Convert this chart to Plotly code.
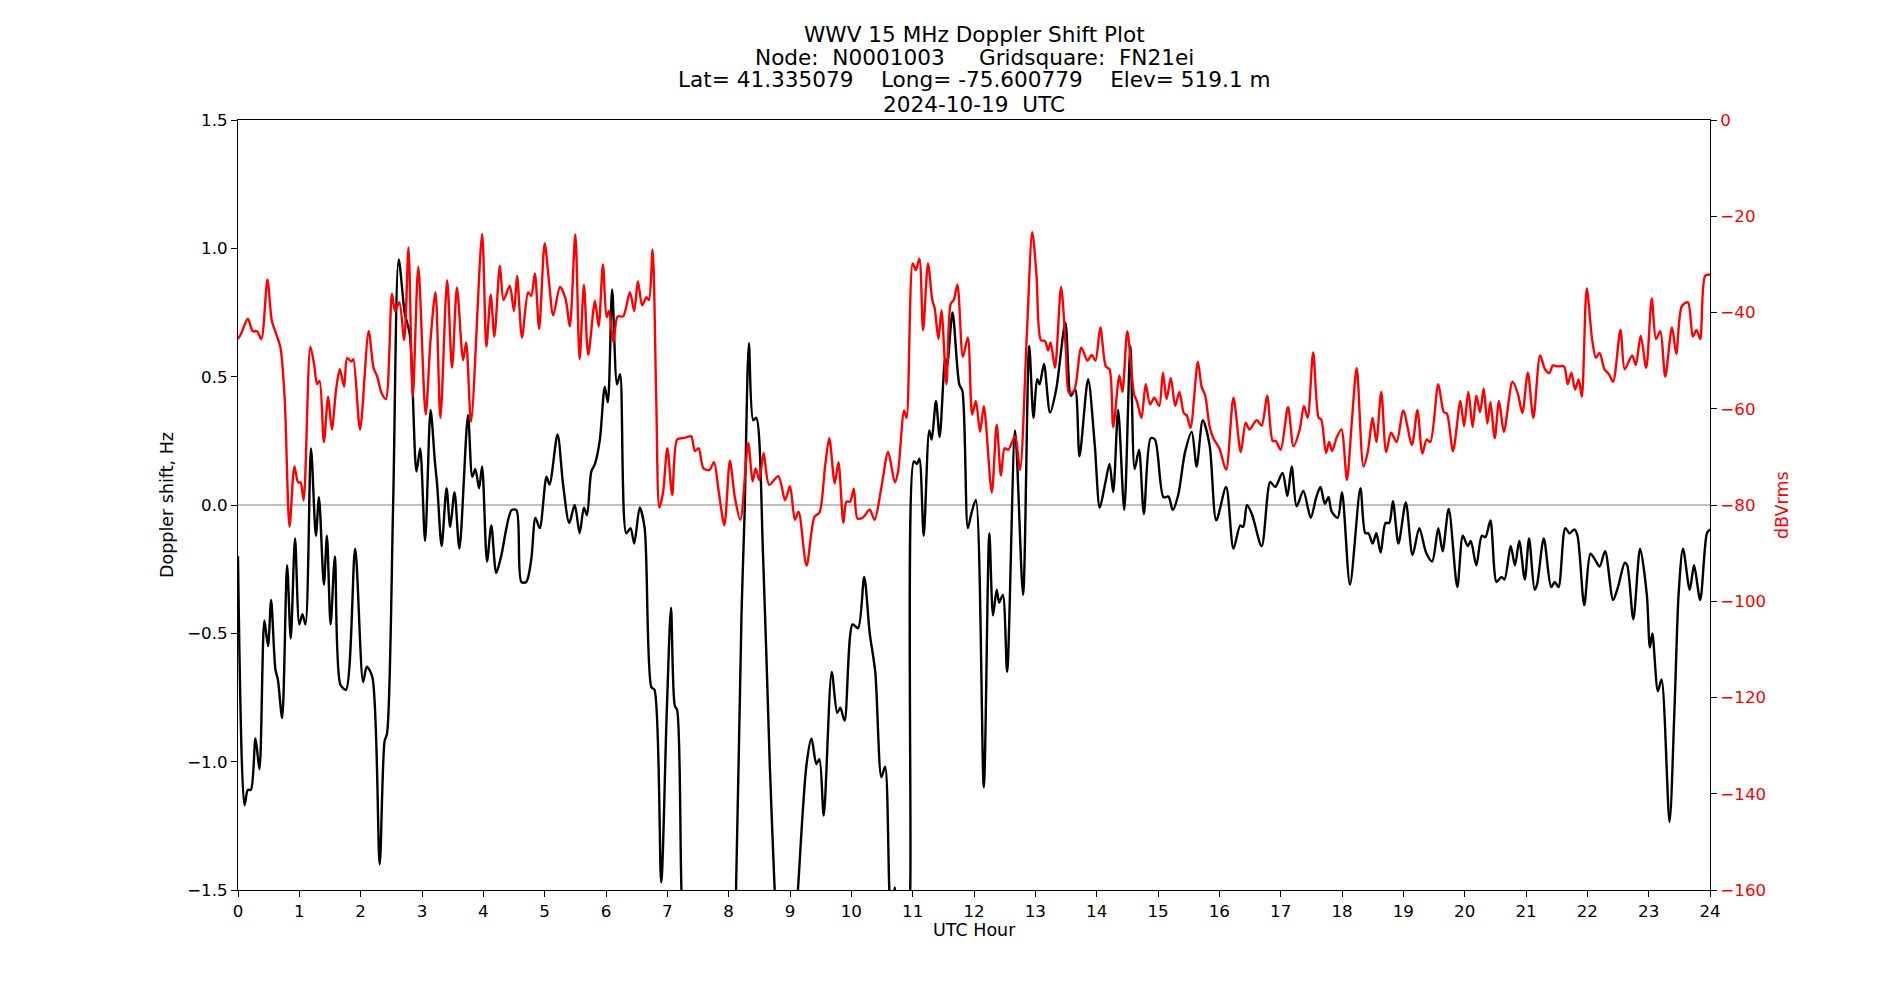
import plotly.graph_objects as go

# ---------------- data ----------------
doppler_hours = [
    0.00, 0.106, 0.16, 0.21, 0.285, 0.35, 0.43, 0.49, 0.54, 0.61, 0.65, 0.72, 0.80, 0.86, 0.93,
    1.00, 1.05, 1.10, 1.19, 1.27, 1.32, 1.40, 1.45, 1.51, 1.58, 1.67, 1.76, 1.91,
    2.04, 2.10, 2.19, 2.31, 2.39, 2.43, 2.53, 2.62, 2.72, 2.80, 2.91, 2.97,
    3.05, 3.14, 3.21, 3.25, 3.32, 3.40, 3.46, 3.53, 3.61, 3.75, 3.82, 3.87, 3.93, 3.98,
    4.06, 4.13, 4.21, 4.29, 4.46, 4.54, 4.62, 4.70, 4.78, 4.85, 4.92,
    5.03, 5.08, 5.21, 5.30, 5.40, 5.49, 5.57, 5.64, 5.69, 5.76, 5.82, 5.90, 5.98,
    6.03, 6.10, 6.18, 6.23, 6.33, 6.40, 6.46, 6.55, 6.63, 6.74, 6.79, 6.90, 6.99,
    7.06, 7.12, 7.16, 7.23, 7.35, 7.70, 8.02, 8.12,
    8.21, 8.26, 8.33, 8.40, 8.45, 8.56, 8.67, 8.75, 8.92, 9.13,
    9.27, 9.35, 9.43, 9.48, 9.55, 9.68, 9.77, 9.82, 9.89,
    10.02, 10.11, 10.21, 10.30, 10.39, 10.49, 10.55, 10.62, 10.66, 10.71, 10.80, 10.92, 10.96,
    11.02, 11.07, 11.11, 11.18, 11.27, 11.31, 11.38, 11.44, 11.53, 11.56, 11.65, 11.76, 11.81, 11.90, 11.96,
    12.03, 12.16, 12.25, 12.31, 12.37, 12.41, 12.47, 12.54, 12.67, 12.80, 12.90, 12.97,
    13.03, 13.07, 13.14, 13.24, 13.34, 13.49, 13.58, 13.65, 13.72, 13.86, 13.97,
    14.05, 14.14, 14.21, 14.27, 14.35, 14.45, 14.55, 14.62, 14.69, 14.77, 14.88, 14.95,
    15.09, 15.17, 15.24, 15.33, 15.44, 15.55, 15.63, 15.73, 15.84, 15.95,
    16.11, 16.23, 16.34, 16.39, 16.45, 16.53, 16.69, 16.83, 16.91,
    17.03, 17.11, 17.18, 17.26, 17.37, 17.49, 17.58, 17.65, 17.72, 17.78, 17.83, 17.93,
    18.00, 18.13, 18.30, 18.38, 18.43, 18.50, 18.56, 18.63, 18.71, 18.77, 18.83, 18.92,
    19.04, 19.15, 19.26, 19.37, 19.47, 19.57, 19.64, 19.74, 19.88, 19.97,
    20.05, 20.10, 20.19, 20.28, 20.34, 20.42, 20.52, 20.60, 20.65, 20.75, 20.82, 20.89, 20.98,
    21.05, 21.14, 21.18, 21.29, 21.41, 21.47, 21.53, 21.64, 21.71, 21.79, 21.84, 21.95,
    22.05, 22.13, 22.20, 22.29, 22.42, 22.50, 22.61, 22.65, 22.75, 22.86, 22.97,
    23.02, 23.06, 23.15, 23.21, 23.34, 23.42, 23.49, 23.56, 23.67, 23.74, 23.84, 23.95, 24.00,
]
doppler_hz = [
    -0.20, -1.17, -1.11, -1.11, -0.91, -1.03, -0.45, -0.55, -0.37, -0.64, -0.68, -0.83, -0.235, -0.52, -0.13,
    -0.465, -0.425, -0.465, 0.22, -0.12, 0.03, -0.31, -0.12, -0.465, -0.20, -0.70, -0.72, -0.17,
    -0.69, -0.63, -0.67, -1.40, -0.92, -0.89, 0.01, 0.957, 0.745, 0.667, 0.13, 0.22,
    -0.14, 0.37, 0.17, 0.07, -0.16, 0.065, -0.085, 0.05, -0.17, 0.35, 0.11, 0.14, 0.065, 0.15,
    -0.22, -0.08, -0.265, -0.20, -0.02, -0.02, -0.30, -0.30, -0.215, -0.05, -0.09,
    0.11, 0.08, 0.275, 0.08, -0.07, 0.0, -0.11, -0.01, -0.04, 0.13, 0.16, 0.255, 0.46,
    0.40, 0.84, 0.47, 0.51, -0.11, -0.09, -0.15, -0.01, -0.09, -0.71, -0.72, -1.47, -0.81,
    -0.40, -0.78, -0.80, -1.50, -2.30, -2.80, -2.30, -1.50,
    -0.42, -0.03, 0.63, 0.33, 0.34, -0.19, -1.01, -1.50, -2.40, -1.50,
    -1.01, -0.91, -1.01, -0.99, -1.21, -0.65, -0.81, -0.79, -0.84,
    -0.465, -0.48, -0.28, -0.50, -0.65, -1.06, -1.02, -1.50, -1.65, -1.49, -1.90, -1.70, -1.50,
    0.17, 0.16, 0.18, -0.12, 0.29, 0.255, 0.405, 0.265, 0.57, 0.54, 0.75, 0.47, 0.445, -0.09, -0.03,
    0.02, -1.10, -0.11, -0.43, -0.33, -0.38, -0.35, -0.65, 0.29, -0.35, 0.62, 0.34,
    0.49, 0.47, 0.55, 0.36, 0.45, 0.71, 0.425, 0.45, 0.19, 0.49, 0.23,
    -0.01, 0.085, 0.16, 0.05, 0.37, -0.02, 0.62, 0.14, 0.215, -0.035, 0.26, 0.255,
    0.03, 0.033, -0.02, 0.04, 0.205, 0.285, 0.15, 0.33, 0.235, -0.06,
    0.07, -0.17, -0.08, -0.085, 0.0, -0.035, -0.16, 0.09, 0.07,
    0.125, 0.035, 0.15, -0.005, 0.055, -0.05, 0.03, 0.07, 0.005, 0.03, -0.025, -0.05,
    0.05, -0.31, 0.065, -0.11, -0.11, -0.15, -0.11, -0.185, -0.07, -0.07, 0.015, -0.15,
    0.01, -0.195, -0.09, -0.185, -0.22, -0.09, -0.18, -0.015, -0.32, -0.12,
    -0.16, -0.14, -0.235, -0.12, -0.125, -0.06, -0.30, -0.28, -0.29, -0.16, -0.235, -0.14, -0.29,
    -0.13, -0.33, -0.31, -0.13, -0.32, -0.30, -0.32, -0.09, -0.11, -0.095, -0.12, -0.39,
    -0.19, -0.215, -0.24, -0.18, -0.37, -0.32, -0.225, -0.235, -0.445, -0.17, -0.35,
    -0.555, -0.50, -0.725, -0.68, -1.235, -0.80, -0.34, -0.17, -0.33, -0.235, -0.37, -0.11, -0.095,
]

power_hours = [
    0.00, 0.05, 0.16, 0.24, 0.31, 0.38, 0.48, 0.55, 0.62, 0.69, 0.76, 0.84, 0.92, 0.98,
    1.02, 1.07, 1.18, 1.24, 1.29, 1.33, 1.40, 1.47, 1.53, 1.60, 1.66, 1.73, 1.78, 1.85, 1.88, 1.99,
    2.13, 2.21, 2.27, 2.34, 2.41, 2.51, 2.56, 2.63, 2.71, 2.78, 2.85, 2.94,
    3.06, 3.14, 3.22, 3.30, 3.41, 3.49, 3.57, 3.67, 3.72, 3.80, 3.98,
    4.05, 4.12, 4.18, 4.27, 4.33, 4.43, 4.50, 4.55, 4.63, 4.73, 4.78, 4.84, 4.91,
    5.00, 5.07, 5.14, 5.25, 5.34, 5.41, 5.50, 5.57, 5.64, 5.71, 5.82, 5.88, 5.95,
    6.01, 6.05, 6.12, 6.19, 6.28, 6.39, 6.46, 6.52, 6.59, 6.66, 6.70, 6.76, 6.82, 6.87, 6.93,
    7.00, 7.08, 7.16, 7.26, 7.32, 7.39, 7.45, 7.51, 7.59, 7.69, 7.76, 7.84, 7.93,
    8.02, 8.10, 8.19, 8.32, 8.39, 8.44, 8.50, 8.57, 8.66, 8.81, 8.92,
    9.00, 9.08, 9.14, 9.27, 9.40, 9.48, 9.57, 9.64, 9.73, 9.79, 9.87, 9.92, 9.98,
    10.04, 10.10, 10.19, 10.30, 10.38, 10.49, 10.60, 10.71, 10.76, 10.86, 10.90,
    11.00, 11.05, 11.11, 11.17, 11.25, 11.32, 11.36, 11.42, 11.47, 11.55, 11.62, 11.67, 11.73, 11.82, 11.90, 11.97,
    12.03, 12.10, 12.16, 12.29, 12.37, 12.44, 12.50, 12.56, 12.67, 12.75, 12.86, 12.95,
    13.02, 13.09, 13.16, 13.21, 13.25, 13.32, 13.42, 13.50, 13.55, 13.63, 13.75, 13.85, 13.92, 13.98,
    14.06, 14.15, 14.21, 14.27, 14.37, 14.42, 14.50, 14.61, 14.66, 14.73, 14.80, 14.87, 14.94,
    15.02, 15.08, 15.14, 15.21, 15.28, 15.35, 15.42, 15.47, 15.53, 15.65, 15.71, 15.77, 15.84, 15.90,
    16.00, 16.11, 16.23, 16.35, 16.43, 16.49, 16.61, 16.69, 16.78, 16.87, 16.92,
    17.00, 17.12, 17.21, 17.31, 17.38, 17.44, 17.53, 17.62, 17.66, 17.74, 17.79, 17.84, 17.91, 17.99,
    18.08, 18.16, 18.24, 18.35, 18.42, 18.50, 18.56, 18.64, 18.72, 18.80, 18.89,
    19.00, 19.14, 19.23, 19.31, 19.38, 19.44, 19.57, 19.66, 19.71, 19.81, 19.93, 19.99,
    20.06, 20.13, 20.19, 20.25, 20.31, 20.37, 20.42, 20.49, 20.56, 20.64, 20.78, 20.87, 20.94,
    21.03, 21.12, 21.23, 21.31, 21.38, 21.44, 21.51, 21.62, 21.68, 21.74, 21.80, 21.86, 21.91, 21.99,
    22.08, 22.14, 22.20, 22.28, 22.35, 22.42, 22.54, 22.61, 22.73, 22.79, 22.87, 22.96,
    23.05, 23.12, 23.19, 23.27, 23.38, 23.45, 23.54, 23.64, 23.72, 23.78, 23.84, 23.92, 24.00,
]
power_dbv = [
    -45.5, -44.4, -41.3, -43.9, -43.9, -45.5, -33.2, -41.6, -44.4, -47.1, -57.5, -84.5, -72.0, -75.3,
    -75.3, -79.0, -47.1, -50.7, -54.9, -54.2, -66.9, -57.5, -64.3, -56.0, -51.8, -55.4, -49.5, -50.2, -49.7, -64.3,
    -43.9, -51.5, -53.3, -56.7, -58.0, -36.1, -39.7, -37.9, -45.7, -26.5, -57.5, -30.5,
    -61.2, -45.5, -35.8, -61.9, -33.3, -51.5, -34.8, -49.9, -46.2, -62.7, -23.7,
    -47.1, -36.3, -45.0, -30.3, -37.4, -34.5, -39.7, -32.4, -45.2, -35.8, -36.6, -31.9, -43.4,
    -25.6, -33.5, -40.6, -34.7, -37.1, -42.9, -23.8, -49.7, -34.3, -48.8, -37.6, -42.9, -30.0,
    -41.0, -39.7, -46.2, -40.8, -40.8, -35.8, -39.7, -33.5, -38.5, -36.8, -37.4, -26.9, -58.6, -80.5, -77.4,
    -68.2, -77.9, -66.4, -66.1, -65.9, -65.7, -68.8, -68.2, -72.4, -72.7, -71.1, -77.4, -84.2,
    -70.8, -78.4, -83.1, -67.1, -75.1, -72.4, -74.8, -69.2, -75.8, -74.0, -79.0,
    -76.1, -83.1, -81.4, -92.6, -82.4, -81.6, -72.2, -66.1, -75.5, -71.1, -83.7, -79.3, -79.3,
    -76.6, -82.8, -82.6, -81.0, -83.1, -76.3, -69.0, -75.3, -73.2, -60.4, -61.9,
    -29.8, -31.2, -28.8, -43.7, -29.8, -37.4, -39.2, -45.5, -39.5, -54.9, -38.2, -37.4, -34.2, -49.2, -45.2, -61.2,
    -58.4, -64.8, -59.4, -77.4, -63.3, -73.9, -68.2, -68.5, -65.7, -72.7, -45.0, -23.3,
    -32.4, -45.7, -46.0, -47.9, -46.2, -51.5, -34.7, -48.1, -56.7, -56.3, -47.3, -50.0, -48.8, -50.0,
    -43.1, -51.2, -51.8, -63.8, -53.1, -56.5, -43.9, -57.0, -58.6, -61.9, -54.9, -59.1, -57.7,
    -59.4, -52.5, -58.0, -53.6, -59.4, -56.5, -60.9, -61.4, -64.0, -50.2, -55.4, -57.3, -63.6, -66.1,
    -68.2, -72.7, -57.7, -69.0, -62.9, -64.3, -62.4, -63.5, -57.3, -66.7, -66.7,
    -68.5, -59.6, -67.8, -64.3, -59.4, -61.9, -48.3, -61.9, -62.2, -69.2, -66.9, -68.8, -66.1, -64.3,
    -74.8, -62.7, -51.5, -72.0, -69.0, -61.9, -66.9, -56.5, -69.0, -65.0, -66.9,
    -60.4, -67.5, -60.3, -69.3, -66.4, -66.9, -54.9, -60.7, -61.0, -68.8, -58.4, -63.6,
    -56.5, -63.8, -57.3, -60.7, -55.8, -63.1, -58.6, -66.1, -58.4, -64.8, -54.4, -57.0, -60.9,
    -52.5, -61.9, -48.9, -51.8, -52.6, -51.0, -51.2, -51.2, -54.9, -52.5, -56.0, -53.9, -57.5, -35.0,
    -45.8, -49.4, -48.4, -51.8, -52.8, -54.4, -43.6, -51.8, -48.9, -50.9, -44.8, -51.5,
    -37.1, -45.5, -43.9, -53.3, -43.1, -48.6, -38.7, -37.9, -45.0, -43.6, -45.5, -32.4, -32.1,
]

title_lines = [
    "WWV 15 MHz Doppler Shift Plot",
    "Node:\u00a0\u00a0N0001003\u00a0\u00a0\u00a0\u00a0\u00a0Gridsquare:\u00a0\u00a0FN21ei",
    "Lat=\u00a041.335079\u00a0\u00a0\u00a0\u00a0Long=\u00a0-75.600779\u00a0\u00a0\u00a0\u00a0Elev=\u00a0519.1\u00a0m",
    "2024-10-19\u00a0\u00a0UTC",
]
x_ticks = list(range(0, 25))
left_ticks = [-1.5, -1.0, -0.5, 0.0, 0.5, 1.0, 1.5]
right_ticks = [0, -20, -40, -60, -80, -100, -120, -140, -160]

# ---------------- figure ----------------
FONT = "DejaVu Sans"
W, H = 1900, 1000
L, R, T, B = 238, 190, 120, 110   # plot area 238..1710 x 120..890
plot_h = H - T - B
plot_w = W - L - R
TICK_SIZE = 16.7
LABEL_SIZE = 17.5
TITLE_SIZE = 21.6

fig = go.Figure()
fig.add_trace(go.Scatter(
    x=doppler_hours, y=doppler_hz, mode="lines",
    line=dict(color="black", width=2.4, shape="spline", smoothing=0.8),
    yaxis="y", showlegend=False, hoverinfo="x+y",
))
fig.add_trace(go.Scatter(
    x=power_hours, y=power_dbv, mode="lines",
    line=dict(color="red", width=2.4, shape="spline", smoothing=0.8),
    yaxis="y2", showlegend=False, hoverinfo="x+y",
))

fig.add_shape(type="line", xref="x", yref="y", x0=0, x1=24, y0=0, y1=0,
              line=dict(color="#808080", width=1), layer="below")

axis_font = dict(family=FONT, size=TICK_SIZE, color="black")
fig.update_layout(
    width=W, height=H,
    margin=dict(l=L, r=R, t=T, b=B, pad=0),
    paper_bgcolor="white", plot_bgcolor="white",
    font=dict(family=FONT, size=TICK_SIZE, color="black"),
    xaxis=dict(
        range=[0, 24], tickvals=x_ticks, ticktext=[str(v) for v in x_ticks],
        ticks="outside", ticklen=6, tickwidth=1, tickcolor="black",
        showline=True, linecolor="black", linewidth=1, mirror=True,
        showgrid=False, zeroline=False, tickfont=axis_font,
    ),
    yaxis=dict(
        range=[-1.5, 1.5], tickvals=left_ticks,
        ticktext=[f"{v:.1f}".replace("-", "\u2212") for v in left_ticks],
        ticks="outside", ticklen=6, tickwidth=1, tickcolor="black",
        showline=True, linecolor="black", linewidth=1,
        showgrid=False, zeroline=False, tickfont=axis_font,
    ),
    yaxis2=dict(
        range=[-160, 0], overlaying="y", side="right", anchor="x",
        tickvals=right_ticks,
        ticktext=[str(v).replace("-", "\u2212") for v in right_ticks],
        ticks="outside", ticklen=6, tickwidth=1, tickcolor="black",
        showline=True, linecolor="black", linewidth=1,
        showgrid=False, zeroline=False,
        tickfont=dict(family=FONT, size=TICK_SIZE, color="red"),
    ),
)

# title lines (centred over the plot area)
title_y_px = [35, 57, 80, 104]
for text, ypx in zip(title_lines, title_y_px):
    fig.add_annotation(
        text=text, xref="paper", yref="paper", x=0.5, y=(H - B - ypx) / plot_h,
        xanchor="center", yanchor="middle", showarrow=False,
        font=dict(family=FONT, size=TITLE_SIZE, color="black"),
    )

# axis titles
fig.add_annotation(text="UTC Hour", xref="paper", yref="paper", x=0.5,
                   y=(H - B - 930) / plot_h, xanchor="center", yanchor="middle",
                   showarrow=False, font=dict(family=FONT, size=LABEL_SIZE, color="black"))
fig.add_annotation(text="Doppler shift, Hz", xref="paper", yref="paper",
                   x=(167 - L) / plot_w, y=0.5, xanchor="center", yanchor="middle",
                   textangle=-90, showarrow=False,
                   font=dict(family=FONT, size=LABEL_SIZE, color="black"))
fig.add_annotation(text="dBVrms", xref="paper", yref="paper",
                   x=(1782 - L) / plot_w, y=0.5, xanchor="center", yanchor="middle",
                   textangle=-90, showarrow=False,
                   font=dict(family=FONT, size=LABEL_SIZE, color="red"))

fig.write_html("out.html")
